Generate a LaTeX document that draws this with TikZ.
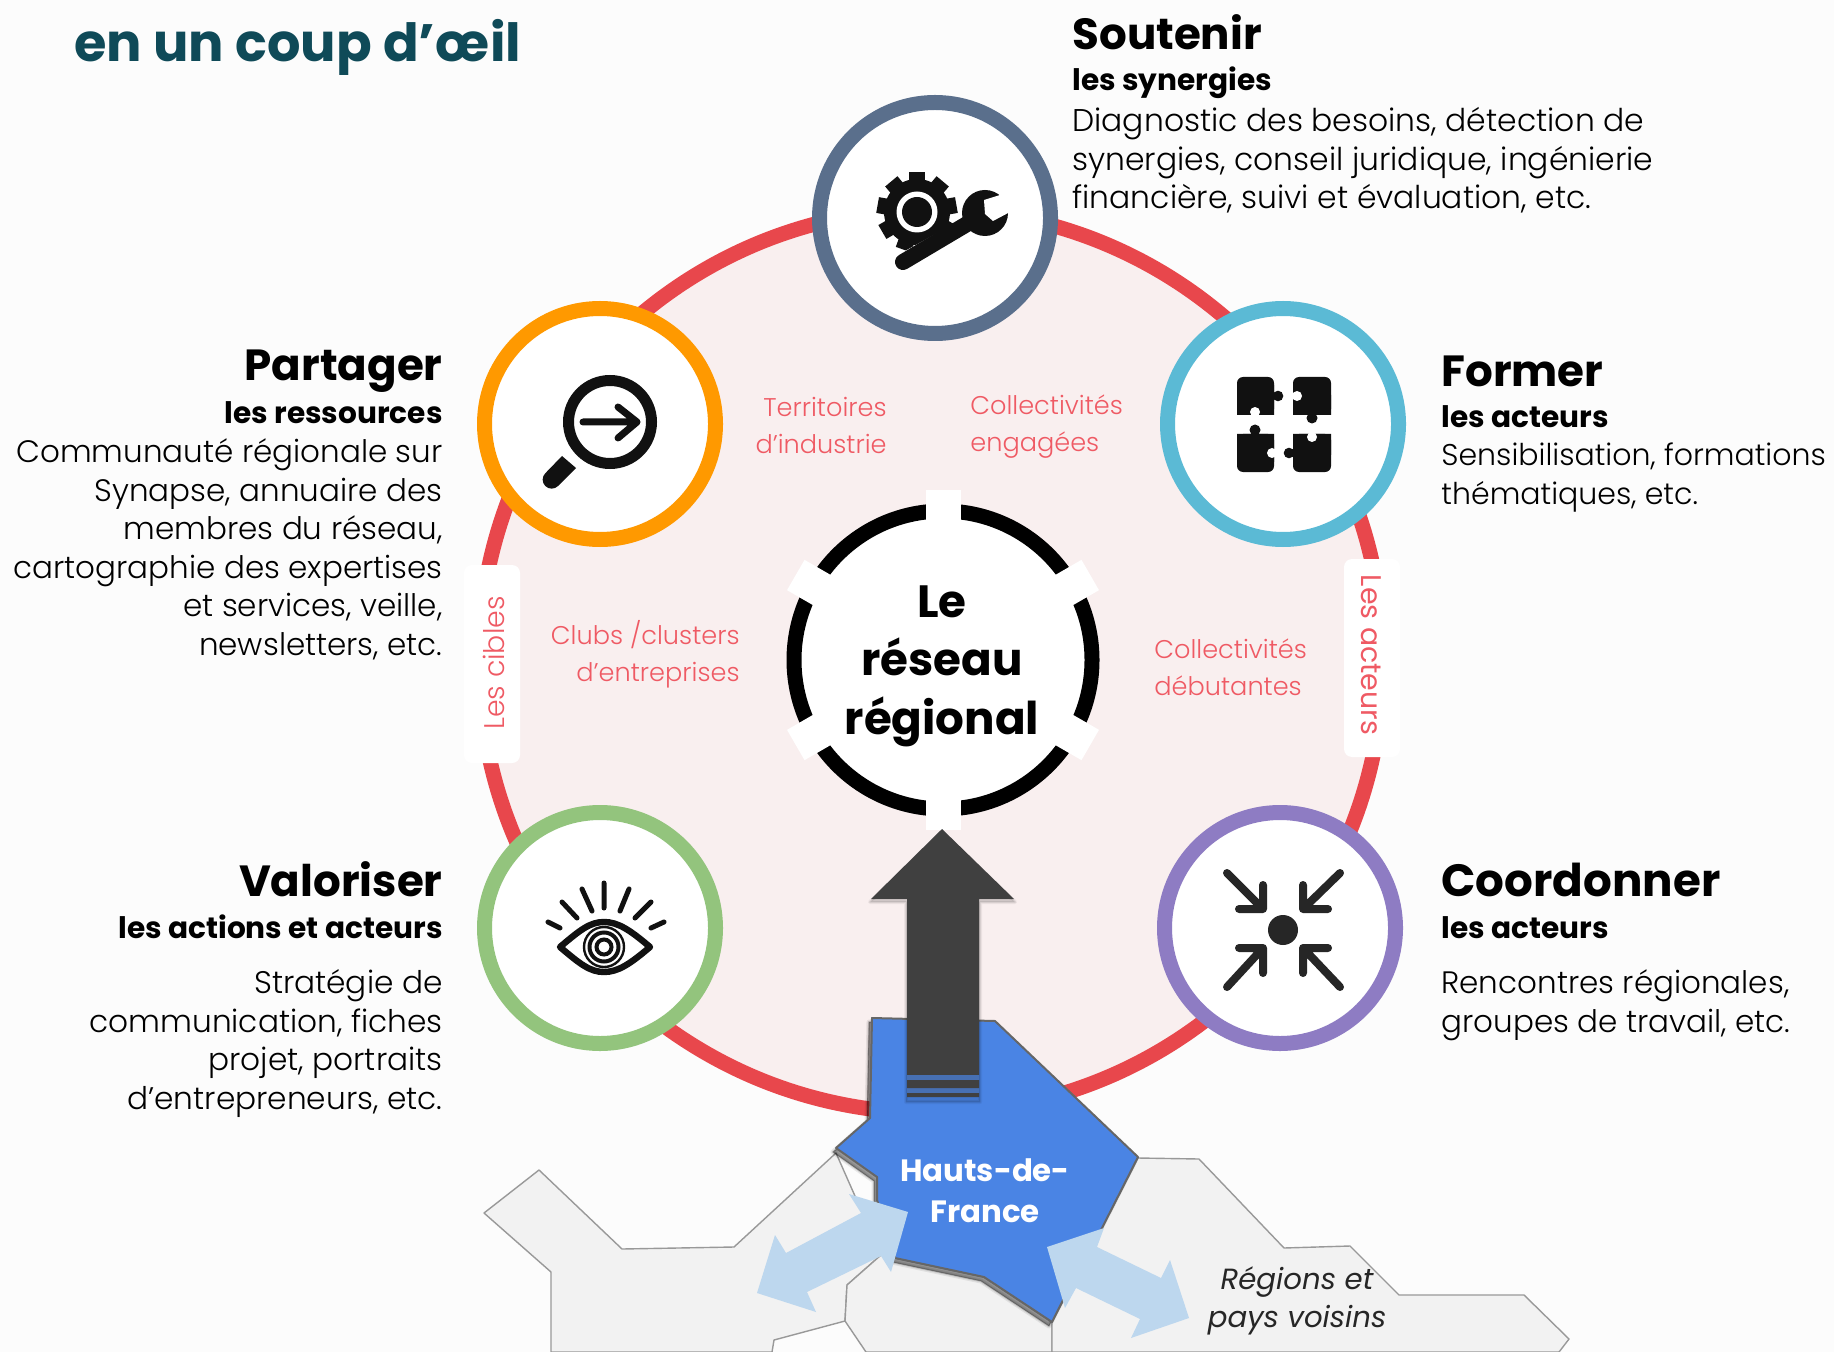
\documentclass[tikz,border=0pt]{standalone}
\usepackage{fontspec}
\setmainfont{Poppins}
\newfontfamily\lightf{Poppins Light}
\usetikzlibrary{shapes.geometric}
\definecolor{redring}{HTML}{E8474C}
\definecolor{pinkfill}{HTML}{F9EFEF}
\definecolor{pinktext}{HTML}{EF5A64}
\definecolor{teal}{HTML}{0F4A58}
\definecolor{cslate}{HTML}{5A6F8C}
\definecolor{corange}{HTML}{FF9900}
\definecolor{ccyan}{HTML}{5BBAD5}
\definecolor{cgreen}{HTML}{93C47D}
\definecolor{cviolet}{HTML}{8E7CC3}
\definecolor{hdfblue}{HTML}{4A84E4}
\definecolor{lightarrow}{HTML}{BDD7EE}
\definecolor{darkarrow}{HTML}{404040}
\definecolor{greyregion}{HTML}{F2F2F2}
\definecolor{ink}{HTML}{111111}
\newcommand{\ttlf}{\fontsize{21.8}{26}\selectfont\bfseries}
\newcommand{\subf}{\fontsize{14.8}{19.3}\selectfont\bfseries}
\newcommand{\bodf}[1]{\fontsize{#1}{19.3}\selectfont\lightf}
\newcommand{\pinkf}{\fontsize{12.8}{18.7}\selectfont\lightf}
\newcommand{\midf}{\fontsize{22.6}{29.3}\selectfont\bfseries}
\newcommand{\hdff}{\fontsize{15.4}{20}\selectfont\bfseries}
\newcommand{\voisf}{\fontsize{14.6}{19}\selectfont\itshape}
\tikzset{
  ringnode/.style={circle,draw=#1,line width=7.5pt,fill=white,minimum size=115.5pt,inner sep=0pt,outer sep=0pt},
  ttl/.style={inner sep=0pt,font=\ttlf,text=black},
  sub/.style={inner sep=0pt,font=\subf,text=black},
  body/.style={inner sep=0pt,text=black},
  pinklbl/.style={inner sep=0pt,font=\pinkf,text=pinktext},
  region/.style={fill=greyregion,draw=black!40,line width=0.7pt,line join=round},
  icon/.style={line cap=round,line join=round,draw=ink,line width=#1},
  icon/.default=2.5pt,
  spoke/.style={draw=white,line width=17.5pt},
  tabbox/.style={fill=white,rounded corners=4pt,minimum width=28pt,minimum height=99pt,inner sep=0pt},
}
\begin{document}
\begin{tikzpicture}[x=0.5pt,y=-0.5pt]
\useasboundingbox (0,0) rectangle (1834,1352);
\fill[black!1] (0,0) rectangle (1834,1352);
% heading
\node[inner sep=0pt,anchor=base west,font=\fontsize{26.3}{30}\selectfont\bfseries,text=teal] (heading) at (74,62) {en un coup d’œil};
% big circle
\node[circle,draw=redring,fill=pinkfill,line width=7.5pt,minimum size=452pt,inner sep=0pt] (big) at (931,661) {};
% neighbouring regions
\path[region] (836,1153) -- (734,1247) -- (622,1249) -- (539,1170) -- (484,1213) -- (551,1272) -- (551,1352) -- (772,1352) -- (774,1340) -- (845,1321) -- (847,1285) -- (881,1255) -- cycle;
\path[region] (881,1255) -- (847,1285) -- (845,1321) -- (866,1352) -- (1052,1352) -- (1052,1322) -- (984,1277) -- (895,1258) -- cycle;
\path[region] (1138,1158) -- (1199,1159) -- (1284,1248) -- (1350,1246) -- (1399,1295) -- (1524,1295) -- (1569,1339) -- (1559,1352) -- (1052,1352) -- (1052,1322) -- (1102,1228) -- cycle;
% white tabs
\node[tabbox] (tabl) at (492,664) {};
\node[tabbox] (tabr) at (1372,658) {};
\node[inner sep=0pt,rotate=90,font=\fontsize{14.2}{18}\selectfont\lightf,text=pinktext] (cibles) at (494,663) {Les cibles};
\node[inner sep=0pt,rotate=-90,font=\fontsize{14.2}{18}\selectfont,text=pinktext] (acteurs) at (1371,655) {Les acteurs};
% rings
\node[ringnode=cslate] (soutenir) at (935,218) {};
\node[ringnode=corange] (partager) at (600,424) {};
\node[ringnode=ccyan] (former) at (1283,424) {};
\node[ringnode=cgreen] (valoriser) at (600,928) {};
\node[ringnode=cviolet] (coordonner) at (1280,928) {};
% centre
\node[circle,draw=black,fill=white,line width=7.5pt,minimum size=149pt,inner sep=0pt] (centre) at (943,660) {};
\foreach \a in {30,90,150,210,270,330}
  \draw[spoke] (centre.center) -- ++(\a:170);
\node[inner sep=0pt,anchor=base,font=\midf] (reseau) at (942,617) {Le};
\node[inner sep=0pt,anchor=base,font=\midf] (reseau2) at (942,675) {réseau};
\node[inner sep=0pt,anchor=base,font=\midf] (reseau3) at (942,734.5) {régional};
% pink labels
\node[pinklbl,anchor=north east,align=right] (terr) at (887,390) {\strut Territoires\\d’industrie};
\node[pinklbl,anchor=north west,align=left] (engag) at (970,388) {\strut Collectivités\\engagées};
\node[pinklbl,anchor=north east,align=right] (clubs) at (740,618) {\strut Clubs /clusters\\d’entreprises};
\node[pinklbl,anchor=north west,align=left] (debut) at (1154,632) {\strut Collectivités\\débutantes};
% gear icon
\fill[ink] (917,212) circle (33);
\foreach \a in {0,40,...,320}
  \fill[ink,rotate around={\a:(917,212)}] (909,172) rectangle (925,190);
\fill[white] (917,212) circle (20.5);
\fill[ink] (917,212) circle (15);
\fill[white] (885,262) -- (972,214) -- (980,260) -- (885,290) -- cycle;
\draw[ink,line width=8pt,line cap=round] (903,262) -- (967,224);
\fill[ink] (985,213) circle (23);
\fill[white] (1000,195) -- (984,200) -- (985,214) -- (993,221) -- (1010,212) -- (1030,205) -- (1020,185) -- cycle;
% magnifier icon
\draw[ink,line width=5.5pt] (610,422) circle (41.5);
\draw[icon=3.5pt] (583,422) -- (637,422) (618,407) -- (637,422) -- (618,438);
\fill[ink] (562,456) -- (576,468) -- (558,486) arc (45:225:9) -- cycle;
% puzzle icon
\fill[ink,rounded corners=3pt] (1237,377) rectangle (1274,415);
\fill[ink] (1247,385) rectangle (1274,415) (1237,395) rectangle (1260,415);
\fill[ink,rounded corners=3pt] (1293,377) rectangle (1331,415);
\fill[ink] (1293,385) rectangle (1320,415) (1310,395) rectangle (1331,415);
\fill[ink,rounded corners=3pt] (1237,434) rectangle (1274,472);
\fill[ink] (1247,434) rectangle (1274,462) (1237,434) rectangle (1260,455);
\fill[ink,rounded corners=3pt] (1293,434) rectangle (1331,472);
\fill[ink] (1293,434) rectangle (1320,462) (1310,434) rectangle (1331,455);
\fill[ink] (1278,396) circle (5.3) (1312,418) circle (5.5) (1255,430) circle (5.5) (1289,453) circle (5.3);
\fill[white] (1255,412) circle (5) (1297,396) circle (5) (1272,453) circle (5) (1312,437) circle (5);
% eye icon
\draw[icon=3.2pt] (560,947) .. controls (580,930) and (590,922) .. (604,922) .. controls (618,922) and (630,930) .. (650,947) .. controls (630,964) and (618,972) .. (604,972) .. controls (590,972) and (580,964) .. (560,947) -- cycle;
\draw[ink,line width=1.2pt] (604,947) circle (20);
\draw[ink,line width=2pt] (604,947) circle (14.5);
\draw[ink,line width=2pt] (604,947) circle (7.5);
\draw[icon=2.5pt] (548,922) -- (560,928) (562,902) -- (577,918) (582,889) -- (592,911) (604,883) -- (604,908) (629,889) -- (620,911) (651,902) -- (635,918) (664,922) -- (651,928);
% converge icon
\fill[black!85] (1283,930) circle (15);
\begin{scope}[line cap=round,line join=round,draw=black!85,line width=4pt]
\draw (1227,873) -- (1263,909) (1263,885) -- (1263,909) -- (1239,909);
\draw (1340,873) -- (1303,909) (1303,885) -- (1303,909) -- (1328,909);
\draw (1227,987) -- (1263,948) (1263,973) -- (1263,948) -- (1239,948);
\draw (1340,987) -- (1303,948) (1303,973) -- (1303,948) -- (1328,948);
\end{scope}
% texts
\node[ttl,anchor=base west] (t1) at (1072,50) {Soutenir};
\node[sub,anchor=base west] (s1) at (1072,91) {les synergies};
\node[body,font=\bodf{15.7},anchor=north west,align=left] (b1) at (1072,104) {\strut Diagnostic des besoins, détection de\\synergies, conseil juridique, ingénierie\\financière, suivi et évaluation, etc.};
\node[ttl,anchor=base east] (t2) at (443,381) {Partager};
\node[sub,anchor=base east] (s2) at (443,423) {les ressources};
\node[body,font=\bodf{15.5},anchor=north east,align=right] (b2) at (443,435) {\strut Communauté régionale sur\\Synapse, annuaire des\\membres du réseau,\\cartographie des expertises\\et services, veille,\\newsletters, etc.};
\node[ttl,anchor=base west] (t3) at (1441,387) {Former};
\node[sub,anchor=base west] (s3) at (1441,428) {les acteurs};
\node[body,font=\bodf{15},anchor=north west,align=left] (b3) at (1441,438.5) {\strut Sensibilisation, formations\\thématiques, etc.};
\node[ttl,anchor=base east] (t4) at (443,896) {Valoriser};
\node[sub,anchor=base east] (s4) at (443,938) {les actions et acteurs};
\node[body,font=\bodf{15.6},anchor=north east,align=right] (b4) at (443,966) {\strut Stratégie de\\communication, fiches\\projet, portraits\\d’entrepreneurs, etc.};
\node[inner sep=0pt,font=\fontsize{22.6}{26}\selectfont\bfseries,anchor=base west] (t5) at (1441,896) {Coordonner};
\node[sub,anchor=base west] (s5) at (1441,938) {les acteurs};
\node[body,font=\bodf{15.5},anchor=north west,align=left] (b5) at (1441,966) {\strut Rencontres régionales,\\groupes de travail, etc.};
% Hauts-de-France shadow and shape
\foreach \o/\w in {0.08/2.5pt,0.12/1.2pt,0.25/0.4pt}
  \fill[black,opacity=\o,draw=black,line width=\w,line join=round,shift={(-3,4)}] (872,1018) -- (995,1021) -- (1138,1157) -- (1102,1228) -- (1063,1300) -- (1052,1322) -- (984,1277) -- (895,1258) -- (877,1200) -- (877,1177) -- (836,1148) -- (870,1118) -- cycle;
\path[fill=hdfblue,draw=black!60,line width=1pt,line join=round] (872,1018) -- (995,1021) -- (1138,1157) -- (1102,1228) -- (1063,1300) -- (1052,1322) -- (984,1277) -- (895,1258) -- (877,1200) -- (877,1177) -- (836,1148) -- (870,1118) -- cycle;
\node[inner sep=0pt,anchor=base,font=\hdff,text=white] (hdf1) at (985,1181) {Hauts-de-};
\node[inner sep=0pt,anchor=base,font=\hdff,text=white] (hdf2) at (985,1222) {France};
% light arrows
\fill[lightarrow] (908,1212) -- (849,1194) -- (861,1213) -- (786,1253) -- (775,1235) -- (757,1293) -- (816,1312) -- (807,1292) -- (881,1256) -- (891,1272) -- cycle;
\fill[lightarrow] (1047,1247) -- (1104,1228) -- (1097,1247) -- (1161,1278) -- (1170,1260) -- (1189,1318) -- (1131,1338) -- (1140,1319) -- (1076,1288) -- (1065,1308) -- cycle;
\node[inner sep=0pt,anchor=base,font=\voisf,text=black!85] (voisins1) at (1297,1289) {Régions et};
\node[inner sep=0pt,anchor=base,font=\voisf,text=black!85] (voisins2) at (1297,1327.5) {pays voisins};
% dark arrow
\foreach \o/\w in {0.05/2pt,0.07/1pt}
  \fill[black,opacity=\o,draw=black,line width=\w,line join=round] (942,832) -- (1015,902) -- (980,902) -- (980,1102) -- (906,1102) -- (906,902) -- (870,902) -- cycle;
\fill[darkarrow] (942,829) -- (1014,899) -- (979,899) -- (979,1075) -- (907,1075) -- (907,899) -- (871,899) -- cycle;
\fill[hdfblue!70!darkarrow] (907,1075) rectangle (979,1097);
\fill[darkarrow] (907,1080) rectangle (979,1088) (907,1093) rectangle (979,1097);
\end{tikzpicture}
\end{document}
